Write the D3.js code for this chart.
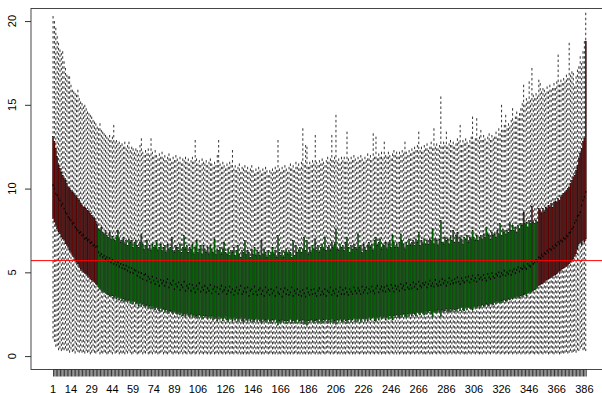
<!DOCTYPE html>
<html>
<head>
<meta charset="utf-8">
<script src="https://cdn.jsdelivr.net/npm/d3@7/dist/d3.min.js"></script>
<style>
  body { margin: 0; background: #fff; }
  svg { display: block; }
  text { font-family: "Liberation Sans", Arial, sans-serif; font-size: 11px; fill: #000; }
</style>
</head>
<body>
<svg id="chart" width="602" height="393"></svg>
<script>
// Five-number summaries per box (whisker ends, quartiles, median), boxes 1..387
const whiskerLow = [
  1.05, 0.85, 0.55, 0.6, 0.35, 0.45, 0.3, 0.4, 0.35, 0.45,
  0.3, 0.35, 0.2, 0.4, 0.25, 0.3, 0.15, 0.35, 0.25, 0.2,
  0.3, 0.2, 0.25, 0.15, 0.3, 0.2, 0.25, 0.1, 0.2, 0.3,
  0.2, 0.15, 0.25, 0.3, 0.1, 0.2, 0.15, 0.25, 0.2, 0.1,
  0.15, 0.25, 0.2, 0.1, 0.3, 0.15, 0.2, 0.25, 0.1, 0.2,
  0.15, 0.2, 0.1, 0.25, 0.15, 0.3, 0.2, 0.1, 0.15, 0.25,
  0.2, 0.1, 0.15, 0.2, 0.25, 0.1, 0.2, 0.15, 0.3, 0.1,
  0.15, 0.2, 0.1, 0.25, 0.15, 0.2, 0.1, 0.15, 0.2, 0.25,
  0.1, 0.2, 0.15, 0.1, 0.2, 0.25, 0.15, 0.1, 0.2, 0.15,
  0.2, 0.1, 0.15, 0.25, 0.1, 0.2, 0.15, 0.1, 0.25, 0.15,
  0.1, 0.15, 0.2, 0.1, 0.15, 0.25, 0.1, 0.2, 0.15, 0.1,
  0.2, 0.15, 0.1, 0.2, 0.1, 0.15, 0.25, 0.1, 0.15, 0.2,
  0.1, 0.2, 0.15, 0.1, 0.2, 0.1, 0.15, 0.2, 0.1, 0.15,
  0.15, 0.1, 0.2, 0.15, 0.1, 0.2, 0.1, 0.15, 0.1, 0.2,
  0.1, 0.15, 0.1, 0.2, 0.15, 0.1, 0.2, 0.1, 0.15, 0.1,
  0.2, 0.1, 0.15, 0.1, 0.2, 0.15, 0.1, 0.15, 0.2, 0.1,
  0.15, 0.1, 0.2, 0.1, 0.15, 0.1, 0.2, 0.15, 0.1, 0.2,
  0.1, 0.15, 0.1, 0.2, 0.1, 0.15, 0.2, 0.1, 0.15, 0.1,
  0.2, 0.1, 0.15, 0.1, 0.2, 0.1, 0.15, 0.1, 0.2, 0.15,
  0.1, 0.2, 0.1, 0.15, 0.1, 0.2, 0.15, 0.1, 0.15, 0.2,
  0.15, 0.1, 0.2, 0.1, 0.15, 0.2, 0.1, 0.15, 0.1, 0.2,
  0.1, 0.15, 0.1, 0.2, 0.15, 0.1, 0.2, 0.1, 0.15, 0.1,
  0.2, 0.15, 0.1, 0.15, 0.2, 0.1, 0.15, 0.1, 0.2, 0.15,
  0.1, 0.2, 0.15, 0.1, 0.2, 0.15, 0.1, 0.2, 0.1, 0.15,
  0.15, 0.1, 0.2, 0.15, 0.1, 0.2, 0.15, 0.1, 0.2, 0.1,
  0.2, 0.1, 0.15, 0.2, 0.1, 0.15, 0.1, 0.2, 0.15, 0.1,
  0.15, 0.2, 0.1, 0.15, 0.2, 0.1, 0.15, 0.2, 0.1, 0.15,
  0.1, 0.15, 0.2, 0.1, 0.15, 0.1, 0.2, 0.15, 0.1, 0.2,
  0.15, 0.1, 0.2, 0.15, 0.1, 0.2, 0.1, 0.15, 0.2, 0.1,
  0.2, 0.15, 0.1, 0.2, 0.15, 0.1, 0.2, 0.15, 0.1, 0.15,
  0.1, 0.2, 0.15, 0.1, 0.2, 0.15, 0.1, 0.2, 0.15, 0.1,
  0.15, 0.1, 0.2, 0.15, 0.1, 0.2, 0.15, 0.1, 0.2, 0.15,
  0.2, 0.1, 0.15, 0.2, 0.1, 0.15, 0.2, 0.1, 0.15, 0.2,
  0.1, 0.15, 0.2, 0.1, 0.15, 0.2, 0.1, 0.15, 0.2, 0.1,
  0.15, 0.2, 0.1, 0.15, 0.2, 0.1, 0.15, 0.2, 0.15, 0.1,
  0.2, 0.15, 0.1, 0.2, 0.15, 0.1, 0.2, 0.15, 0.2, 0.1,
  0.15, 0.2, 0.15, 0.1, 0.2, 0.15, 0.2, 0.1, 0.15, 0.2,
  0.15, 0.2, 0.25, 0.15, 0.2, 0.3, 0.2, 0.25, 0.3, 0.2,
  0.35, 0.3, 0.45, 0.55, 0.35, 0.4, 0.3
];

const lowerQuartile = [
  8.2, 8.0, 7.8, 7.6, 7.4, 7.3, 7.1, 7.0, 6.9, 6.7,
  6.6, 6.5, 6.3, 6.2, 6.0, 5.9, 5.7, 5.6, 5.5, 5.3,
  5.2, 5.1, 5.0, 4.95, 4.9, 4.8, 4.7, 4.6, 4.55, 4.45,
  4.4, 4.3, 4.25, 4.1, 4.0, 3.9, 3.85, 3.8, 3.75, 3.7,
  3.65, 3.6, 3.55, 3.6, 3.45, 3.55, 3.4, 3.5, 3.35, 3.45,
  3.3, 3.4, 3.25, 3.35, 3.2, 3.35, 3.15, 3.25, 3.1, 3.25,
  3.1, 3.2, 3.0, 3.15, 2.95, 3.1, 3.0, 2.9, 3.05, 2.85,
  3.0, 2.8, 2.95, 2.85, 2.75, 2.9, 2.8, 2.7, 2.85, 2.65,
  2.8, 2.6, 2.75, 2.65, 2.55, 2.7, 2.6, 2.5, 2.65, 2.55,
  2.5, 2.6, 2.45, 2.55, 2.4, 2.5, 2.35, 2.55, 2.45, 2.3,
  2.5, 2.35, 2.45, 2.3, 2.4, 2.25, 2.45, 2.35, 2.2, 2.4,
  2.3, 2.4, 2.2, 2.35, 2.25, 2.4, 2.15, 2.3, 2.25, 2.1,
  2.35, 2.2, 2.3, 2.1, 2.25, 2.35, 2.15, 2.05, 2.3, 2.2,
  2.1, 2.3, 2.15, 2.25, 2.05, 2.2, 2.3, 2.1, 2.0, 2.25,
  2.15, 2.05, 2.25, 2.1, 2.2, 2.0, 2.15, 2.25, 2.05, 2.2,
  2.1, 1.95, 2.2, 2.05, 2.15, 2.0, 2.2, 2.1, 1.95, 2.15,
  2.05, 2.2, 2.0, 1.85, 2.1, 1.95, 2.15, 2.05, 2.1, 1.95,
  2.1, 2.0, 2.2, 1.95, 2.1, 2.05, 1.95, 2.2, 2.0, 2.1,
  1.95, 2.15, 1.9, 2.05, 1.85, 2.1, 2.0, 2.15, 2.05, 1.95,
  2.1, 2.15, 1.95, 2.2, 2.05, 1.95, 2.15, 2.05, 2.2, 1.95,
  2.15, 2.0, 2.2, 1.95, 2.1, 1.9, 2.15, 2.05, 2.2, 2.1,
  2.0, 2.2, 2.1, 1.95, 2.15, 2.2, 2.0, 2.15, 2.25, 2.05,
  2.2, 2.05, 2.25, 2.0, 2.2, 2.25, 2.05, 2.25, 2.1, 2.3,
  2.15, 2.25, 2.3, 2.1, 2.05, 2.3, 2.15, 2.35, 2.2, 2.25,
  2.35, 2.15, 2.3, 2.2, 2.4, 2.25, 2.15, 2.4, 2.3, 2.45,
  2.3, 2.25, 2.45, 2.3, 2.5, 2.35, 2.3, 2.5, 2.35, 2.55,
  2.4, 2.55, 2.5, 2.4, 2.6, 2.55, 2.45, 2.6, 2.55, 2.45,
  2.65, 2.5, 2.6, 2.7, 2.5, 2.35, 2.65, 2.6, 2.55, 2.75,
  2.6, 2.35, 2.75, 2.6, 2.7, 2.8, 2.65, 2.6, 2.8, 2.65,
  2.8, 2.75, 2.65, 2.8, 2.85, 2.7, 2.9, 2.75, 2.7, 2.9,
  2.75, 2.9, 2.85, 2.8, 2.75, 2.95, 2.9, 2.85, 3.0, 2.95,
  2.9, 3.05, 3.0, 2.95, 3.1, 3.05, 3.0, 3.15, 3.1, 3.05,
  3.2, 3.1, 3.25, 3.2, 3.15, 3.3, 3.2, 3.35, 3.3, 3.25,
  3.4, 3.35, 3.45, 3.4, 3.5, 3.45, 3.55, 3.5, 3.45, 3.6,
  3.55, 3.65, 3.7, 3.6, 3.75, 3.8, 3.75, 3.85, 3.9, 3.95,
  4.0, 4.1, 4.2, 4.25, 4.3, 4.35, 4.4, 4.5, 4.55, 4.6,
  4.65, 4.7, 4.75, 4.8, 4.85, 4.9, 5.0, 5.05, 5.1, 5.2,
  5.25, 5.3, 5.35, 5.4, 5.5, 5.6, 5.7, 5.8, 5.95, 6.1,
  6.4, 6.7, 6.8, 6.6, 6.9, 6.8, 7.0
];

const median = [
  10.2, 10.0, 9.7, 9.6, 9.4, 9.3, 9.0, 9.1, 8.8, 8.6,
  8.5, 8.3, 8.2, 8.1, 7.9, 7.95, 7.7, 7.6, 7.5, 7.35,
  7.4, 7.2, 7.25, 7.0, 7.05, 6.9, 6.95, 6.75, 6.8, 6.6,
  6.65, 6.5, 6.55, 6.2, 6.0, 6.1, 5.9, 6.0, 5.8, 5.9,
  5.7, 5.85, 5.6, 5.75, 5.5, 5.65, 5.45, 5.6, 5.35, 5.5,
  5.25, 5.45, 5.2, 5.4, 5.1, 5.3, 5.0, 5.25, 4.95, 5.15,
  5.1, 4.8, 5.0, 4.7, 4.95, 4.6, 4.85, 4.9, 4.5, 4.75,
  4.6, 4.4, 4.75, 4.5, 4.3, 4.65, 4.45, 4.2, 4.55, 4.35,
  4.5, 4.2, 4.4, 4.6, 4.1, 4.35, 4.25, 4.5, 4.0, 4.3,
  4.15, 4.4, 3.95, 4.25, 4.1, 4.45, 3.9, 4.2, 4.05, 4.3,
  3.9, 4.25, 4.05, 3.8, 4.2, 4.0, 4.35, 3.85, 4.1, 3.95,
  4.2, 3.8, 4.05, 3.9, 4.25, 3.75, 4.0, 4.15, 3.85, 4.1,
  3.7, 4.0, 4.2, 3.85, 3.95, 4.1, 3.7, 3.9, 4.15, 3.8,
  4.0, 3.65, 3.9, 4.1, 3.75, 3.95, 4.2, 3.7, 3.85, 4.05,
  3.8, 4.1, 3.6, 3.9, 4.0, 3.7, 4.15, 3.85, 3.65, 3.95,
  4.05, 3.7, 3.9, 3.6, 4.1, 3.8, 3.95, 3.65, 4.0, 3.75,
  3.9, 3.6, 4.1, 3.8, 3.7, 4.0, 3.55, 3.85, 4.05, 3.7,
  3.95, 3.65, 3.8, 4.1, 3.6, 3.9, 3.75, 4.0, 3.65, 3.85,
  3.6, 3.95, 3.75, 3.55, 4.05, 3.8, 3.65, 3.95, 3.7, 4.0,
  3.75, 3.6, 3.9, 4.05, 3.65, 3.85, 3.7, 4.0, 3.6, 3.9,
  3.8, 4.1, 3.65, 3.9, 3.75, 4.0, 3.6, 3.85, 4.1, 3.7,
  3.95, 3.7, 4.05, 3.8, 3.65, 4.0, 3.85, 3.7, 4.1, 3.9,
  3.75, 4.05, 3.9, 3.7, 4.15, 3.8, 3.95, 4.1, 3.75, 4.0,
  3.85, 4.15, 3.9, 3.75, 4.05, 4.2, 3.8, 4.0, 4.15, 3.9,
  4.1, 3.85, 4.2, 4.0, 3.9, 4.25, 4.05, 3.85, 4.2, 4.0,
  4.15, 3.9, 4.3, 4.05, 4.2, 3.95, 4.35, 4.1, 4.0, 4.25,
  4.05, 4.4, 4.15, 4.3, 4.0, 4.45, 4.2, 4.1, 4.35, 4.25,
  4.4, 4.1, 4.3, 4.5, 4.2, 4.35, 4.15, 4.55, 4.3, 4.2,
  4.45, 4.25, 4.6, 4.35, 4.5, 4.2, 4.4, 4.65, 4.3, 4.5,
  4.35, 4.6, 4.4, 4.7, 4.45, 4.3, 4.65, 4.5, 4.4, 4.7,
  4.5, 4.75, 4.4, 4.6, 4.8, 4.5, 4.65, 4.45, 4.85, 4.6,
  4.7, 4.55, 4.85, 4.65, 4.5, 4.9, 4.7, 4.6, 4.95, 4.75,
  4.65, 4.9, 4.8, 5.0, 4.75, 4.95, 4.85, 5.1, 4.8, 5.0,
  4.9, 5.1, 4.85, 5.05, 5.2, 4.95, 5.15, 5.3, 5.05, 5.25,
  5.2, 5.4, 5.3, 5.2, 5.5, 5.4, 5.35, 5.65, 5.5, 5.6,
  5.75, 5.65, 5.9, 5.85, 6.05, 5.95, 6.15, 6.1, 6.3, 6.2,
  6.4, 6.35, 6.55, 6.45, 6.65, 6.6, 6.8, 6.7, 6.9, 6.85,
  7.05, 7.0, 7.2, 7.15, 7.35, 7.4, 7.6, 7.7, 7.95, 8.1,
  8.35, 8.4, 8.6, 9.0, 9.3, 9.5, 9.8
];

const upperQuartile = [
  13.1, 12.8, 12.4, 11.9, 11.4, 11.2, 11.0, 10.8, 10.6, 10.5,
  10.3, 10.1, 10.0, 9.9, 9.8, 9.7, 9.6, 9.5, 9.4, 9.3,
  9.1, 9.0, 8.9, 8.9, 8.8, 8.7, 8.65, 8.5, 8.4, 8.3,
  8.2, 8.05, 7.85, 7.6, 7.5, 7.7, 7.4, 7.3, 7.5, 7.2,
  7.1, 7.4, 7.0, 7.15, 7.0, 6.9, 7.2, 7.5, 7.0, 6.8,
  6.9, 7.1, 6.7, 6.9, 6.6, 7.0, 6.8, 6.9, 6.5, 6.8,
  6.9, 6.6, 6.5, 6.8, 7.3, 6.7, 6.4, 6.6, 6.9, 6.4,
  6.6, 6.3, 6.7, 6.5, 6.6, 6.9, 6.3, 6.5, 6.7, 6.3,
  6.5, 6.6, 6.2, 6.7, 6.4, 6.5, 7.1, 6.3, 6.2, 6.6,
  6.5, 6.3, 6.7, 6.2, 6.5, 7.2, 6.4, 6.6, 6.2, 6.5,
  6.4, 6.7, 6.1, 6.5, 6.9, 6.2, 6.4, 6.6, 6.1, 6.6,
  6.4, 6.2, 6.5, 6.1, 6.6, 6.4, 6.2, 7.0, 6.1, 6.4,
  6.3, 6.5, 6.1, 6.4, 6.8, 6.2, 6.1, 6.4, 6.0, 6.3,
  6.2, 6.5, 6.0, 6.3, 6.6, 6.1, 5.9, 6.3, 6.2, 6.9,
  6.1, 6.3, 6.2, 5.9, 6.4, 6.1, 6.5, 6.0, 6.3, 6.2,
  6.0, 6.9, 6.1, 6.4, 6.2, 5.9, 6.3, 6.0, 6.2, 6.5,
  6.1, 6.3, 5.9, 7.2, 6.2, 6.0, 6.3, 5.9, 6.2, 6.4,
  6.1, 6.3, 6.2, 5.9, 6.9, 6.0, 6.6, 6.2, 6.3, 6.5,
  6.2, 6.4, 7.1, 6.3, 6.9, 6.1, 6.5, 6.2, 6.6, 6.4,
  7.0, 6.3, 6.6, 6.2, 6.5, 6.7, 6.4, 7.1, 6.3, 6.5,
  6.6, 6.3, 6.8, 6.5, 6.7, 7.6, 6.4, 6.3, 6.7, 6.5,
  6.6, 6.3, 6.8, 7.1, 6.5, 6.2, 6.6, 6.4, 6.7, 6.5,
  6.4, 7.3, 6.5, 6.6, 6.2, 6.7, 6.5, 6.3, 6.6, 6.8,
  6.5, 6.7, 6.3, 6.9, 7.1, 6.6, 6.8, 7.0, 6.4, 6.7,
  6.6, 6.8, 6.4, 6.7, 6.9, 6.5, 7.2, 6.8, 6.5, 6.7,
  6.5, 6.8, 7.3, 6.9, 6.7, 6.4, 6.8, 6.6, 7.0, 6.6,
  6.8, 6.9, 6.6, 7.0, 6.8, 7.4, 6.6, 6.9, 6.7, 7.0,
  6.7, 6.9, 6.7, 7.0, 6.9, 7.6, 6.7, 7.0, 6.9, 6.6,
  7.0, 8.1, 6.8, 6.7, 7.1, 6.9, 7.0, 6.7, 7.1, 6.9,
  7.5, 6.8, 7.2, 7.4, 6.8, 7.1, 7.0, 6.7, 7.1, 7.0,
  7.2, 6.8, 7.1, 7.0, 7.5, 7.1, 6.9, 7.2, 6.9, 7.1,
  7.2, 7.0, 7.3, 7.1, 7.7, 7.3, 7.2, 7.0, 7.4, 7.2,
  7.3, 7.1, 7.5, 7.3, 7.9, 7.2, 7.6, 7.4, 7.3, 7.5,
  7.4, 8.0, 7.5, 7.8, 7.5, 7.7, 7.4, 7.8, 7.6, 7.9,
  7.8, 8.6, 7.9, 8.0, 7.7, 8.1, 7.9, 8.95, 8.0, 7.9,
  8.1, 8.0, 8.8, 8.7, 8.5, 8.8, 8.6, 8.9, 8.8, 9.0,
  8.9, 9.1, 8.9, 9.2, 9.25, 9.2, 9.4, 9.3, 9.5, 9.6,
  9.7, 9.8, 9.9, 10.0, 10.1, 10.3, 10.5, 10.7, 10.8, 11.1,
  11.4, 11.8, 12.1, 12.4, 12.8, 13.0, 18.8
];

const whiskerHigh = [
  20.3, 20.0, 19.6, 19.1, 18.7, 18.3, 18.1, 18.2, 17.6, 17.2,
  16.8, 16.7, 16.7, 16.2, 15.9, 15.8, 15.7, 15.6, 15.9, 15.4,
  15.2, 15.1, 14.9, 15.0, 14.8, 14.6, 14.5, 14.4, 14.3, 14.1,
  14.0, 13.9, 13.7, 13.6, 13.9, 13.5, 13.4, 13.3, 13.2, 13.1,
  13.0, 13.2, 12.9, 13.1, 13.8, 12.8, 12.9, 12.7, 12.8, 12.6,
  12.7, 12.5, 12.8, 12.4, 12.6, 12.8, 12.3, 12.5, 12.4, 12.2,
  12.4, 12.3, 12.1, 12.6, 13.0, 12.2, 12.0, 12.3, 12.1, 12.4,
  12.0, 13.0, 12.2, 11.9, 12.3, 12.0, 11.8, 12.1, 11.9, 12.2,
  11.8, 12.0, 11.7, 11.9, 12.1, 11.8, 11.6, 11.9, 11.7, 12.0,
  11.8, 11.6, 11.9, 11.5, 11.8, 11.7, 11.9, 11.6, 11.8, 11.5,
  11.7, 11.9, 11.6, 12.9, 11.8, 11.5, 11.7, 11.4, 11.8, 11.6,
  11.5, 11.7, 11.4, 11.6, 11.8, 11.5, 11.3, 11.6, 11.4, 12.0,
  12.9, 11.5, 11.3, 11.6, 11.4, 11.2, 11.5, 11.3, 11.6, 11.4,
  12.3, 11.2, 11.4, 11.1, 11.3, 11.5, 11.0, 11.3, 11.2, 11.4,
  11.1, 11.3, 11.0, 11.2, 11.4, 11.1, 10.9, 11.2, 11.0, 11.3,
  11.1, 10.9, 11.2, 11.0, 11.3, 11.1, 10.8, 11.1, 11.0, 11.2,
  11.0, 11.3, 11.1, 12.9, 11.2, 11.0, 11.3, 11.1, 11.4, 11.2,
  11.0, 11.3, 11.5, 11.2, 11.4, 11.1, 11.6, 11.3, 11.5, 11.2,
  11.6, 13.6, 11.4, 12.6, 12.5, 11.3, 11.6, 11.4, 11.7, 11.5,
  13.2, 11.6, 11.4, 11.7, 11.5, 11.8, 11.6, 11.4, 11.7, 11.9,
  11.6, 11.8, 13.2, 11.7, 11.9, 14.4, 11.6, 11.8, 11.5, 11.9,
  11.7, 11.9, 11.6, 13.4, 11.8, 11.6, 11.9, 11.7, 12.0, 11.8,
  11.6, 11.9, 11.7, 12.0, 11.8, 11.6, 11.9, 11.7, 12.1, 11.8,
  12.0, 11.7, 13.3, 11.9, 13.1, 11.8, 12.1, 11.9, 12.2, 11.8,
  12.8, 12.0, 11.9, 12.2, 12.0, 11.8, 12.1, 12.3, 12.0, 12.2,
  11.9, 12.2, 12.0, 12.3, 12.1, 12.8, 12.2, 12.0, 12.3, 12.1,
  12.4, 12.2, 12.5, 12.3, 12.6, 13.4, 12.3, 12.5, 12.2, 12.6,
  12.4, 12.7, 12.3, 12.5, 12.8, 12.4, 13.6, 12.5, 12.7, 12.4,
  12.6, 15.5, 12.5, 12.8, 12.6, 13.4, 12.5, 12.7, 12.9, 12.6,
  12.8, 12.5, 12.7, 13.0, 12.8, 13.8, 12.6, 12.9, 12.7, 13.0,
  12.8, 12.6, 12.9, 13.1, 14.3, 12.8, 13.0, 14.2, 12.9, 13.1,
  13.5, 12.9, 13.2, 13.0, 12.8, 13.1, 13.3, 12.9, 13.2, 13.0,
  13.1, 13.4, 13.0, 13.6, 13.3, 15.0, 13.5, 13.8, 14.4, 13.6,
  13.9, 13.7, 14.1, 14.8, 14.0, 14.3, 14.6, 14.2, 14.5, 14.8,
  15.1, 16.2, 15.0, 15.4, 15.2, 16.4, 15.3, 17.2, 15.6, 15.4,
  15.7, 15.5, 16.5, 16.3, 15.8, 16.0, 15.9, 15.7, 16.1, 15.8,
  16.2, 15.9, 16.0, 16.3, 16.0, 16.4, 18.0, 16.2, 16.5, 16.3,
  16.6, 16.4, 16.8, 16.6, 18.7, 16.8, 17.0, 16.9, 16.1, 16.7,
  17.1, 17.3, 17.9, 17.5, 18.2, 18.8, 20.5
];

// Boxes drawn in the highlight colour (inclusive index runs)
const flaggedRuns = [[1, 33], [342, 342], [348, 348], [353, 387]];
const referenceLevel = 5.7;
const yTickValues = [0, 5, 10, 15, 20];
const xTickLabels = [1, 14, 29, 44, 59, 74, 89, 106, 126, 146, 166, 186, 206,
                     226, 246, 266, 286, 306, 326, 346, 366, 386];

const n = median.length;
const boxes = median.map((m, k) => ({
  id: k + 1,
  lo: whiskerLow[k], q1: lowerQuartile[k], med: m,
  q3: upperQuartile[k], hi: whiskerHigh[k]
}));
const isFlagged = id => flaggedRuns.some(([a, b]) => id >= a && id <= b);

const plot = { left: 31, top: 8.5, right: 607.8, bottom: 369.5 };
const pad = 0.04 * n;
const x = d3.scaleLinear().domain([0.5 - pad, n + 0.5 + pad]).range([plot.left, plot.right]);
const y = d3.scaleLinear().domain([-0.8, 20.75]).range([plot.bottom, plot.top]);
const step = x(2) - x(1);
const halfBox = 0.4 * step;
const fill = d3.scaleOrdinal().domain([false, true]).range(["#008B00", "#8B0000"]);

const svg = d3.select("#chart");
svg.append("rect").attr("width", 602).attr("height", 393).attr("fill", "#fff");

const g = svg.append("g");
const box = g.selectAll("g.box").data(boxes).join("g").attr("class", "box");

// dashed whiskers, drawn from the whisker end toward the box
box.append("line")
  .attr("x1", d => x(d.id)).attr("x2", d => x(d.id))
  .attr("y1", d => y(d.hi)).attr("y2", d => y(d.q3))
  .attr("stroke", "#000").attr("stroke-width", 0.8).attr("stroke-dasharray", "2.5,2.5");
box.append("line")
  .attr("x1", d => x(d.id)).attr("x2", d => x(d.id))
  .attr("y1", d => y(d.lo)).attr("y2", d => y(d.q1))
  .attr("stroke", "#000").attr("stroke-width", 0.8).attr("stroke-dasharray", "2.5,2.5");

// quartile boxes
box.append("rect")
  .attr("x", d => x(d.id) - halfBox).attr("width", 2 * halfBox)
  .attr("y", d => y(d.q3)).attr("height", d => y(d.q1) - y(d.q3))
  .attr("fill", d => fill(isFlagged(d.id)))
  .attr("stroke", "#000").attr("stroke-width", 0.45);

// medians
box.append("line")
  .attr("x1", d => x(d.id) - halfBox).attr("x2", d => x(d.id) + halfBox)
  .attr("y1", d => y(d.med)).attr("y2", d => y(d.med))
  .attr("stroke", "#000").attr("stroke-width", 1.8);

// reference level
svg.append("line")
  .attr("x1", plot.left).attr("x2", 602)
  .attr("y1", y(referenceLevel)).attr("y2", y(referenceLevel))
  .attr("stroke", "#ff0000").attr("stroke-width", 1);

// plot frame
svg.append("rect")
  .attr("x", plot.left).attr("y", plot.top)
  .attr("width", plot.right - plot.left).attr("height", plot.bottom - plot.top)
  .attr("fill", "none").attr("stroke", "#333").attr("stroke-width", 0.9);

// y axis
const yAxis = svg.append("g").attr("transform", `translate(${plot.left},0)`)
  .call(d3.axisLeft(y).tickValues(yTickValues).tickSize(6).tickFormat(""));
yAxis.select(".domain").remove();
yAxis.selectAll(".tick line").attr("stroke", "#333");
svg.selectAll("text.ylab").data(yTickValues).join("text")
  .attr("class", "ylab")
  .attr("text-anchor", "middle")
  .attr("transform", v => `translate(15.6,${y(v)}) rotate(-90)`)
  .text(v => v);

// x axis: a tick for every box, labels where they fit
const xAxis = svg.append("g").attr("transform", `translate(0,${plot.bottom})`)
  .call(d3.axisBottom(x).tickValues(boxes.map(b => b.id)).tickSize(7).tickFormat(""));
xAxis.select(".domain").remove();
xAxis.selectAll(".tick line").attr("stroke", "#222").attr("stroke-width", 0.9);
svg.selectAll("text.xlab").data(xTickLabels).join("text")
  .attr("class", "xlab")
  .attr("text-anchor", "middle")
  .attr("x", v => x(v)).attr("y", 392.5)
  .text(v => v);
</script>
</body>
</html>
